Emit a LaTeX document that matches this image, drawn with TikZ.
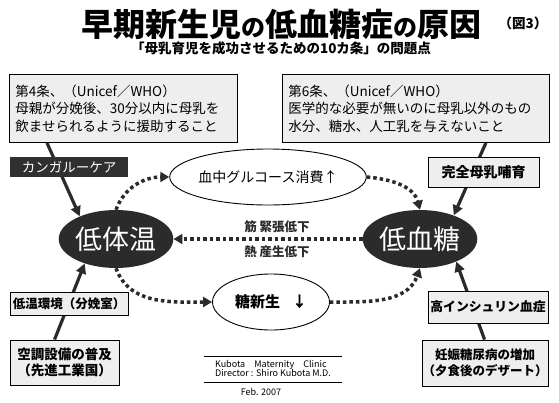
\documentclass[tikz,border=0pt]{standalone}
\usepackage{fontspec}
\setmainfont{Noto Sans CJK JP}
\usetikzlibrary{arrows.meta,shapes.geometric}
\definecolor{ink}{HTML}{2B2B2B}
\definecolor{softgray}{HTML}{EEEEEE}
\definecolor{darkbox}{HTML}{303030}
\newcommand{\sno}{{\fontsize{24}{24}\selectfont の}}
\begin{document}
\begin{tikzpicture}[x=1pt,y=-1pt,
  every node/.style={inner sep=0pt},
  notebox/.style={draw,fill=softgray,line width=0.9pt,anchor=north west,align=left,inner xsep=6pt,minimum height=68pt,font=\fontsize{13.5}{17.5}\selectfont},
  tagbox/.style={draw,fill=softgray,line width=0.9pt,align=center,font=\bfseries\fontsize{13.5}{16}\selectfont},
  condition/.style={ellipse,fill=ink,text=white,minimum width=114pt,minimum height=58pt,font=\fontsize{27}{27}\selectfont},
  effect/.style={ellipse,draw,fill=white,line width=0.9pt,minimum height=56pt},
  dotarrow/.style={ink,line width=3.5pt,dash pattern=on 3.5pt off 3pt,-{Triangle[length=9pt,width=10pt]}},
  cause/.style={ink,line width=3.2pt,-{Triangle[length=10pt,width=10pt]}}]
\fill[white] (0,0) rectangle (559,402);
\useasboundingbox (0,0) rectangle (559,402);
\node[font=\bfseries\fontsize{32}{32}\selectfont] (title) at (281,24) {早期新生児\sno 低血糖症\sno 原因};
\node[font=\bfseries\fontsize{13.5}{13.5}\selectfont] (fig) at (523,23) {（図3）};
\node[font=\bfseries\fontsize{13.5}{13.5}\selectfont] (sub) at (281,48) {「母乳育児を成功させるための10カ条」の問題点};
\node[notebox,text width=216pt] (art4) at (9,74) {第4条、（Unicef／WHO）\\母親が分娩後、30分以内に母乳を\\飲ませられるように援助すること};
\node[notebox,text width=255pt] (art6) at (282,74) {第6条、（Unicef／WHO）\\医学的な必要が無いのに母乳以外のもの\\水分、糖水、人工乳を与えないこと};
\node[condition] (temp) at (116,239) {低体温};
\node[condition] (sugar) at (420,239) {低血糖};
\node[effect,minimum width=164pt,font=\fontsize{14}{14}\selectfont] (use) at (268,177) {血中グルコース消費↑};
\node[effect,minimum width=117pt,font=\bfseries\fontsize{15}{15}\selectfont] (gluco) at (271,302) {糖新生\hspace{12pt}↓};
\draw[dotarrow] (temp.north) to[out=70,in=180] (use.west);
\draw[dotarrow] (use.east) to[out=-5,in=105] (sugar.north);
\draw[dotarrow] (temp.south) to[out=-70,in=180] (gluco.west);
\draw[dotarrow] (gluco.east) to[out=0,in=-110] (sugar.south);
\draw[dotarrow] (sugar.west) -- node[midway,above=5pt,xshift=9pt,font=\bfseries\fontsize{12.5}{12.5}\selectfont] (muscle) {筋 緊張低下}
  node[midway,below=5pt,xshift=9pt,font=\bfseries\fontsize{12.5}{12.5}\selectfont] (heat) {熱 産生低下} (temp.east);
\node[draw,fill=softgray,line width=0.9pt,minimum width=109pt,minimum height=45pt,align=center,font=\bfseries\fontsize{13.5}{16}\selectfont] (aircon) at (64.5,362.5) {空調設備の普及\\（先進工業国）};
\node[draw,fill=softgray,line width=0.9pt,minimum width=126pt,minimum height=46pt,align=center,font=\bfseries\fontsize{12.5}{16}\selectfont] (gdm) at (485,363) {妊娠糖尿病の増加\\（夕食後のデザート）};
\draw[cause] ([xshift=38pt]art4.south west) -- (temp.148);
\draw[cause] ([xshift=-64pt]art6.south east) -- (sugar.35);
\draw[cause] ([xshift=45pt]aircon.north west) -- (temp.218);
\draw[cause] ([xshift=63pt]gdm.north west) -- (sugar.-32);
\node[fill=darkbox,text=white,minimum width=118pt,minimum height=20pt,font=\fontsize{13.5}{13.5}\selectfont] (kangaroo) at (69,167) {カンガルーケア};
\node[tagbox,minimum width=111pt,minimum height=30pt,font=\bfseries\fontsize{14}{14}\selectfont] (breast) at (483.5,172) {完全母乳哺育};
\node[tagbox,minimum width=118pt,minimum height=23pt,font=\bfseries\fontsize{12.5}{12.5}\selectfont] (cold) at (69,303.5) {低温環境（分娩室）};
\node[tagbox,minimum width=120pt,minimum height=32pt,font=\bfseries\fontsize{12.8}{12.8}\selectfont] (insulin) at (488,307) {高インシュリン血症};
\node[align=left,font=\fontsize{9}{9.5}\selectfont] (clinic) at (273,368.5) {Kubota\quad Maternity\quad Clinic\\Director : Shiro Kubota M.D.};
\draw[line width=0.9pt] (204,356) -- (342,356);
\draw[line width=0.9pt] (204,382) -- (342,382);
\node[font=\fontsize{9}{9}\selectfont] (date) at (261,392) {Feb. 2007};
\end{tikzpicture}
\end{document}
